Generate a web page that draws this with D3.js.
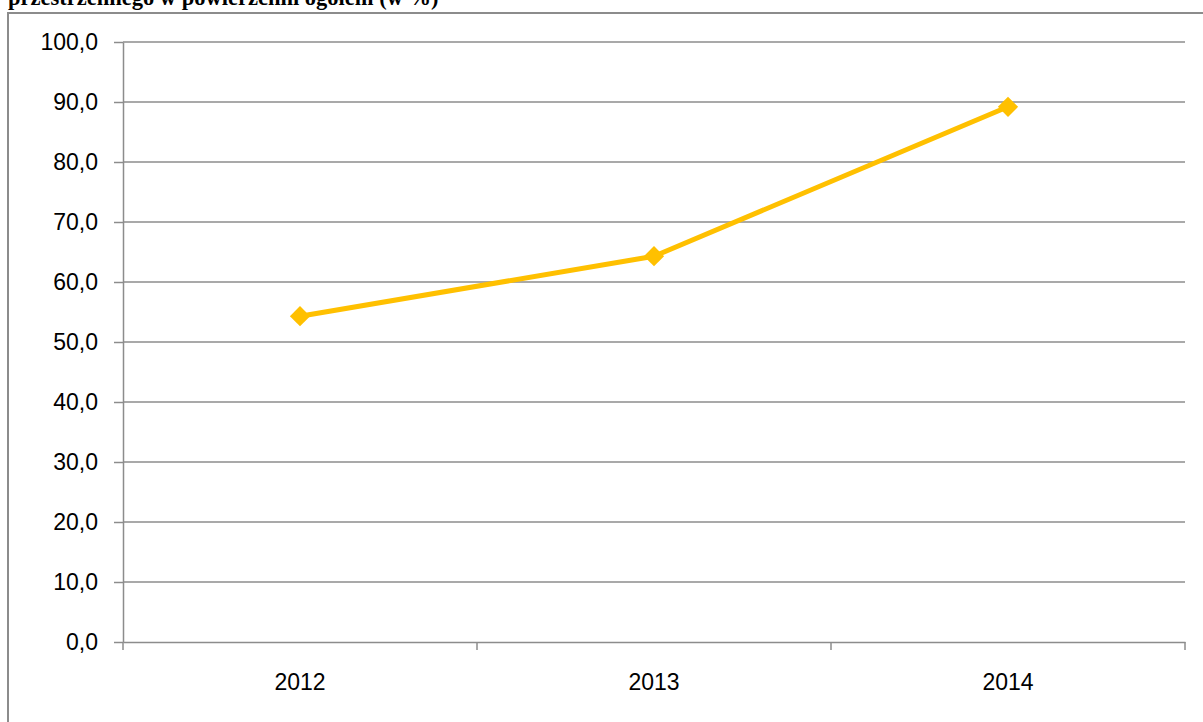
<!DOCTYPE html>
<meta charset="utf-8">
<title>Udział powierzchni</title>
<style>

body {
  margin: 0;
  background: #fff;
  overflow: hidden;
}

svg {
  display: block;
}

.title {
  font: bold 22.5px "Liberation Serif", serif;
}

.axis text {
  font: 23px "Liberation Sans", sans-serif;
  fill: #000;
}

.axis path,
.axis line,
.grid line {
  stroke: #8c8c8c;
  stroke-width: 1.5px;
}

.frame {
  fill: none;
  stroke: #8c8c8c;
  stroke-width: 2px;
}

.line {
  fill: none;
  stroke: #ffc000;
  stroke-width: 5px;
  stroke-linejoin: round;
}

.dot {
  fill: #ffc000;
}

</style>
<svg width="1203" height="722"></svg>
<script src="https://cdnjs.cloudflare.com/ajax/libs/d3/7.8.5/d3.min.js"></script>
<script>

var years = ["2012", "2013", "2014"];
var values = [54.3, 64.3, 89.2];
var yTicks = [0, 10, 20, 30, 40, 50, 60, 70, 80, 90, 100];

var svg = d3.select("svg"),
    margin = {top: 42, right: 18, bottom: 80, left: 123},
    width = +svg.attr("width") - margin.left - margin.right,
    height = +svg.attr("height") - margin.top - margin.bottom;

var pl = d3.formatLocale({decimal: ",", thousands: " ", grouping: [3], currency: ["", " zł"]});

// title is cut off at the top edge in the original
svg.append("text")
    .attr("class", "title")
    .attr("x", 8)
    .attr("y", 5)
    .text("przestrzennego w powierzchni ogółem (w %)");

svg.append("path")
    .attr("class", "frame")
    .attr("d", "M8,730V13H1203");

var x = d3.scaleBand()
    .domain(years)
    .range([0, width]);

var y = d3.scaleLinear()
    .domain([0, 100])
    .range([height, 0]);

var g = svg.append("g")
    .attr("transform", "translate(" + margin.left + "," + margin.top + ")");

g.append("g")
    .attr("class", "grid")
  .selectAll("line")
    .data(yTicks.slice(1))
  .enter().append("line")
    .attr("x1", 0)
    .attr("x2", width)
    .attr("y1", function(d) { return y(d); })
    .attr("y2", function(d) { return y(d); });

g.append("g")
    .attr("class", "axis")
    .call(d3.axisLeft(y).tickValues(yTicks).tickFormat(pl.format(".1f")).tickSize(9).tickPadding(16).tickSizeOuter(0));

var xAxis = g.append("g")
    .attr("class", "axis")
    .attr("transform", "translate(0," + height + ")")
    .call(d3.axisBottom(x).tickSize(0).tickPadding(32).tickSizeOuter(0));

// ticks between categories
xAxis.selectAll(".sep")
    .data(d3.range(years.length + 1))
  .enter().append("line")
    .attr("class", "sep")
    .attr("x1", function(i) { return i * x.step(); })
    .attr("x2", function(i) { return i * x.step(); })
    .attr("y1", 0)
    .attr("y2", 8);

var line = d3.line()
    .x(function(d, i) { return x(years[i]) + x.bandwidth() / 2; })
    .y(function(d) { return y(d); });

g.append("path")
    .datum(values)
    .attr("class", "line")
    .attr("d", line);

g.selectAll(".dot")
    .data(values)
  .enter().append("path")
    .attr("class", "dot")
    .attr("d", d3.symbol(d3.symbolDiamond2, 260))
    .attr("transform", function(d, i) { return "translate(" + (x(years[i]) + x.bandwidth() / 2) + "," + y(d) + ")"; });

</script>
